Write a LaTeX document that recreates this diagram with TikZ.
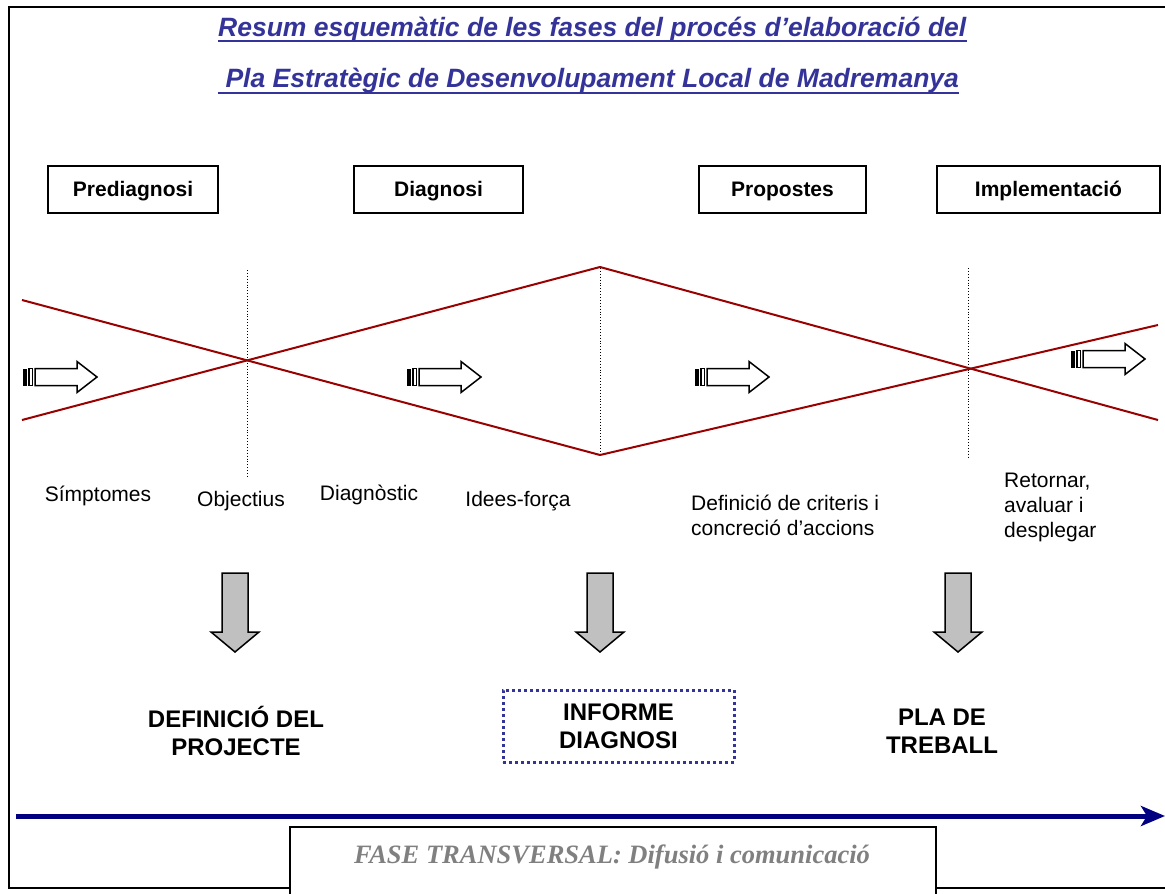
\documentclass[tikz,border=0pt]{standalone}
\usepackage{fontspec}
\setmainfont{Liberation Sans}
\newfontfamily\tnrfont{Liberation Serif}
\usetikzlibrary{arrows.meta}
\definecolor{titleblue}{HTML}{333399}
\definecolor{darkred}{HTML}{990000}
\definecolor{navyblue}{HTML}{000080}
\definecolor{grayfill}{HTML}{C0C0C0}
\definecolor{fasegray}{HTML}{808080}
\tikzset{
  titletext/.style={anchor=base west, inner sep=0pt, text=titleblue, font=\bfseries\itshape\fontsize{26.5}{30}\selectfont},
  phasebox/.style={draw, line width=1.5pt, minimum height=47pt, inner sep=0pt, text height=15pt, text depth=2pt, font=\bfseries\fontsize{21}{25}\selectfont},
  lbl/.style={inner sep=0pt, font=\fontsize{21}{25}\selectfont},
  outlbl/.style={inner sep=0pt, align=center, font=\bfseries\fontsize{24}{28}\selectfont},
  redline/.style={darkred, line width=2pt},
  sepline/.style={dotted, line width=0.9pt},
  harrow/.pic={
    \fill (0,-8.5) rectangle (4,8.5);
    \draw[line width=1.2pt] (6,-8.5) rectangle (9.5,8.5);
    \draw[line width=1.5pt, fill=white] (12,-8.5) -- (54,-8.5) -- (54,-15.5) -- (74,0) -- (54,15.5) -- (54,8.5) -- (12,8.5) -- cycle;
  },
  darrow/.pic={
    \draw[line width=1.5pt, fill=grayfill, line join=miter] (-13,0) -- (13,0) -- (13,59) -- (24,59) -- (0,79) -- (-24,59) -- (-13,59) -- cycle;
  }
}
\begin{document}
\begin{tikzpicture}[x=1pt,y=-1pt]
\useasboundingbox (0,0) rectangle (1165,894);
\fill[white] (0,0) rectangle (1165,894);
% frame
\draw[line width=2.5pt] (1165,7) -- (9,7) -- (9,888) -- (1165,888);
% title
\node[titletext] (t1) at (218,36) {Resum esquemàtic de les fases del procés d’elaboració del};
\draw[titleblue, line width=2pt] ([yshift=-5pt]t1.base west) -- ([yshift=-5pt]t1.base east);
\node[titletext] (t2) at (218,87) {\ Pla Estratègic de Desenvolupament Local de Madremanya};
\draw[titleblue, line width=2pt] ([yshift=-6pt]t2.base west) -- ([yshift=-6pt]t2.base east);
% phase boxes
\node[phasebox, minimum width=170pt] (pre) at (133,189.5) {Prediagnosi};
\node[phasebox, minimum width=169pt] (dia) at (438.5,189.5) {Diagnosi};
\node[phasebox, minimum width=167pt] (pro) at (782.5,189.5) {Propostes};
\node[phasebox, minimum width=223pt] (imp) at (1048.5,189.5) {Implementació};
% dotted separators
\coordinate (s1t) at (247,270); \coordinate (s1b) at (247,478);
\coordinate (s2t) at (600,268); \coordinate (s2b) at (600,456);
\coordinate (s3t) at (968,268); \coordinate (s3b) at (968,458);
\draw[sepline] (s1t) -- (s1b);
\draw[sepline] (s2t) -- (s2b);
\draw[sepline] (s3t) -- (s3b);
% red lines
\coordinate (la) at (22,300); \coordinate (lb) at (22,420);
\coordinate (mt) at (600,267); \coordinate (mb) at (600,455);
\coordinate (rc) at (1158,420); \coordinate (rd) at (1158,325);
\draw[redline] (la) -- (mb);
\draw[redline] (lb) -- (mt);
\draw[redline] (mt) -- (rc);
\draw[redline] (mb) -- (rd);
% hollow arrows
\pic at (23,377) {harrow};
\pic at (407,377) {harrow};
\pic at (695,377) {harrow};
\pic at (1071,359) {harrow};
% labels
\node[lbl] (sim) at (98,496) {Símptomes};
\node[lbl] (obj) at (241,501) {Objectius};
\node[lbl] (dgn) at (369,495) {Diagnòstic};
\node[lbl] (ide) at (518,501) {Idees-força};
\node[lbl, align=left, anchor=west] (def) at (691,515) {Definició de criteris i\\concreció d’accions};
\node[lbl, align=left, anchor=west] (ret) at (1004,507) {Retornar,\\avaluar i\\desplegar};
% grey down arrows
\pic at (235,573) {darrow};
\pic at (600,573) {darrow};
\pic at (958,573) {darrow};
% outputs
\node[outlbl] (proj) at (236,731) {DEFINICIÓ DEL\\PROJECTE};
\node[outlbl, draw=titleblue, line width=3pt, dash pattern=on 3pt off 3pt, minimum width=231pt, minimum height=72pt] (inf) at (618.5,726) {INFORME\\DIAGNOSI};
\node[outlbl] (pla) at (942,731) {PLA DE\\TREBALL};
% transversal arrow
\coordinate (ta) at (16,816); \coordinate (tb) at (1165,816);
\draw[navyblue, line width=5pt, -{Stealth[length=24pt, width=20pt, inset=6pt]}] (ta) -- (tb);
% transversal box
\fill[white] (290,827) rectangle (936,894);
\draw[line width=2pt] (290,894) -- (290,827) -- (936,827) -- (936,894);
\node[inner sep=0pt, anchor=base, text=fasegray, font=\tnrfont\bfseries\itshape\fontsize{26.5}{30}\selectfont] (fase) at (612,863) {FASE TRANSVERSAL: Difusió i comunicació};
\end{tikzpicture}
\end{document}
